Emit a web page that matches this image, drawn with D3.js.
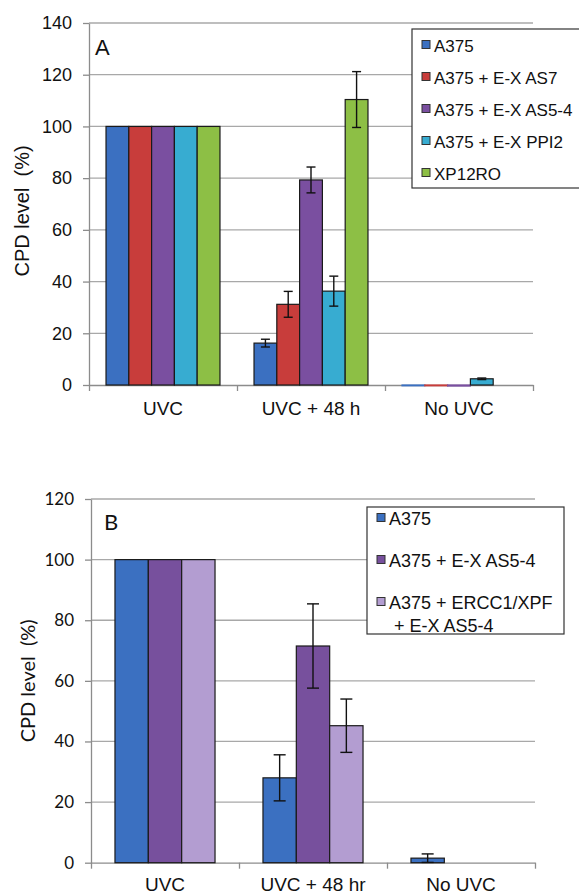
<!DOCTYPE html>
<html>
<head>
<meta charset="utf-8">
<script src="https://cdn.jsdelivr.net/npm/d3@7"></script>
<style>
  html, body { margin: 0; padding: 0; background: #fff; }
  svg { display: block; }
</style>
</head>
<body>
<div id="chart"></div>
<script>
// panel A
const categoriesA = ["UVC", "UVC + 48 h", "No UVC"];
const seriesA = ["A375", "A375 + E-X AS7", "A375 + E-X AS5-4", "A375 + E-X PPI2", "XP12RO"];
const colorsA = ["#3b70c1", "#c83d3b", "#7a4fa0", "#37acd1", "#8dbf45"];
const valuesA = [
  [100, 16.2, -0.3],
  [100, 31.2, -0.3],
  [100, 79.3, -0.4],
  [100, 36.3, 2.4],
  [100, 110.4, 0]
];
const errorsA = [
  [0, 1.5, 0],
  [0, 5, 0],
  [0, 5, 0],
  [0, 5.8, 0.3],
  [0, 10.8, 0]
];
const ticksA = [0, 20, 40, 60, 80, 100, 120, 140];

// panel B
const categoriesB = ["UVC", "UVC + 48 hr", "No UVC"];
const seriesB = ["A375", "A375 + E-X AS5-4", ["A375 + ERCC1/XPF", "+ E-X AS5-4"]];
const colorsB = ["#3b70c1", "#77509d", "#b39dd1"];
const valuesB = [
  [100, 28, 1.5],
  [100, 71.5, 0],
  [100, 45.2, 0]
];
const errorsB = [
  [0, 7.6, 1.4],
  [0, 13.9, 0],
  [0, 8.8, 0]
];
const ticksB = [0, 20, 40, 60, 80, 100, 120];

const svg = d3.select("#chart").append("svg")
  .attr("width", 579)
  .attr("height", 894);

const drawPanel = (p) => {
  const g = svg.append("g");

  const y = d3.scaleLinear().domain(p.yDomain).range([p.bottom, p.top]);
  const x = d3.scaleBand().domain(p.categories).range([p.left, p.right]);
  const xs = d3.scaleBand().domain(d3.range(p.series.length))
    .range([x.bandwidth() * p.pad, x.bandwidth() * (1 - p.pad)]);
  const xEdge = d3.scaleLinear().domain([0, p.categories.length]).range([p.left, p.right]);

  // gridlines
  g.append("g").selectAll("line")
    .data(p.ticks.filter(d => d > 0))
    .join("line")
    .attr("x1", p.left).attr("x2", p.right)
    .attr("y1", d => y(d)).attr("y2", d => y(d))
    .attr("stroke", "#a8a8a8").attr("stroke-width", 1.3);

  // y axis
  const yAxis = d3.axisLeft(y).tickValues(p.ticks).tickSize(6).tickSizeOuter(0).tickPadding(11);
  const ya = g.append("g").attr("transform", `translate(${p.left},0)`).call(yAxis);
  ya.select(".domain").attr("stroke", "#8c8c8c").attr("stroke-width", 1.3);
  ya.selectAll(".tick line").attr("stroke", "#8c8c8c").attr("stroke-width", 1.3);
  ya.selectAll(".tick text")
    .attr("font-family", p.tickFont).attr("font-size", p.tickSize).attr("fill", "#111");

  // x axis (ticks at category edges)
  const xAxis = d3.axisBottom(xEdge).tickValues(d3.range(p.categories.length + 1))
    .tickSize(6).tickSizeOuter(0).tickFormat("");
  const xa = g.append("g").attr("transform", `translate(0,${y(0)})`).call(xAxis);
  xa.select(".domain").attr("stroke", "#8c8c8c").attr("stroke-width", 1.3);
  xa.selectAll(".tick line").attr("stroke", "#8c8c8c").attr("stroke-width", 1.3);

  g.append("g").selectAll("text")
    .data(p.categories)
    .join("text")
    .attr("x", d => x(d) + x.bandwidth() / 2)
    .attr("y", p.labelY)
    .attr("text-anchor", "middle")
    .attr("font-family", "Liberation Sans, Arial, sans-serif")
    .attr("font-size", 19)
    .attr("fill", "#111")
    .text(d => d);

  // bars
  const cells = [];
  p.series.forEach((s, si) => {
    p.categories.forEach((c, ci) => {
      cells.push({si, c, v: p.values[si][ci], e: p.errors[si][ci]});
    });
  });

  g.append("g").selectAll("rect")
    .data(cells.filter(d => d.v !== 0))
    .join("rect")
    .attr("x", d => x(d.c) + xs(d.si))
    .attr("width", xs.bandwidth())
    .attr("y", d => Math.min(y(d.v), y(0)))
    .attr("height", d => Math.abs(y(0) - y(d.v)))
    .attr("fill", d => p.colors[d.si])
    .attr("stroke", d => d.v < 0 ? p.colors[d.si] : "#1a1a1a")
    .attr("stroke-width", 1.2);

  // error bars
  const eb = g.append("g").selectAll("g")
    .data(cells.filter(d => d.e > 0))
    .join("g")
    .attr("stroke", "#111").attr("stroke-width", 1.4);
  const cx = d => x(d.c) + xs(d.si) + xs.bandwidth() / 2;
  eb.append("line")
    .attr("x1", cx).attr("x2", cx)
    .attr("y1", d => y(d.v + d.e)).attr("y2", d => y(d.v - d.e));
  [1, -1].forEach(sign => {
    eb.append("line")
      .attr("x1", d => cx(d) - p.cap).attr("x2", d => cx(d) + p.cap)
      .attr("y1", d => y(d.v + sign * d.e)).attr("y2", d => y(d.v + sign * d.e));
  });

  // panel letter
  g.append("text")
    .attr("x", p.letterX).attr("y", p.letterY)
    .attr("font-family", p.tickFont).attr("font-size", 22)
    .attr("fill", "#111")
    .text(p.letter);

  // y title
  g.append("text")
    .attr("transform", `translate(${p.titleX},${(p.top + p.bottom) / 2 + p.titleShift}) rotate(-90)`)
    .attr("text-anchor", "middle")
    .attr("font-family", p.tickFont).attr("font-size", p.titleSize)
    .attr("fill", "#111")
    .attr("xml:space", "preserve")
    .text("CPD level  (%)");

  // legend
  const lg = g.append("g");
  lg.append("rect")
    .attr("x", p.legend.x).attr("y", p.legend.y)
    .attr("width", p.legend.w).attr("height", p.legend.h)
    .attr("fill", "#fff").attr("stroke", "#333").attr("stroke-width", 1.2);
  const items = lg.selectAll("g.item")
    .data(p.series)
    .join("g")
    .attr("class", "item")
    .attr("transform", (d, i) => `translate(${p.legend.x + 10},${p.legend.first + i * p.legend.step})`);
  items.append("rect")
    .attr("x", 0).attr("y", -4.5).attr("width", 8).attr("height", 8)
    .attr("fill", (d, i) => p.colors[i]).attr("stroke", "#333").attr("stroke-width", 1);
  items.append("text")
    .attr("x", 12).attr("y", 6.5)
    .attr("font-family", "Liberation Sans, Arial, sans-serif")
    .attr("font-size", p.legend.font).attr("fill", "#111")
    .each(function(d) {
      const lines = Array.isArray(d) ? d : [d];
      d3.select(this).selectAll("tspan")
        .data(lines)
        .join("tspan")
        .attr("x", (l, i) => i ? 17 : 12)
        .attr("dy", (l, i) => i ? 23 : 0)
        .text(l => l);
    });
};

drawPanel({
  categories: categoriesA, series: seriesA, colors: colorsA,
  values: valuesA, errors: errorsA, ticks: ticksA, yDomain: [0, 140],
  left: 89, right: 533, top: 23, bottom: 385, pad: 0.115, cap: 4.5,
  labelY: 415, tickFont: "Liberation Sans, Arial, sans-serif", tickSize: 18,
  letter: "A", letterX: 95, letterY: 55, titleX: 29, titleSize: 20, titleShift: 7,
  legend: {x: 412, y: 29, w: 200, h: 159, first: 45, step: 32, font: 17}
});

drawPanel({
  categories: categoriesB, series: seriesB, colors: colorsB,
  values: valuesB, errors: errorsB, ticks: ticksB, yDomain: [0, 120],
  left: 91, right: 535, top: 499, bottom: 862.7, pad: 0.162, cap: 6,
  labelY: 891, tickFont: "Lato, sans-serif", tickSize: 17,
  letter: "B", letterX: 104, letterY: 530, titleX: 35, titleSize: 20, titleShift: 0,
  legend: {x: 367, y: 507, w: 197, h: 127, first: 518, step: 42, font: 18}
});
</script>
</body>
</html>
